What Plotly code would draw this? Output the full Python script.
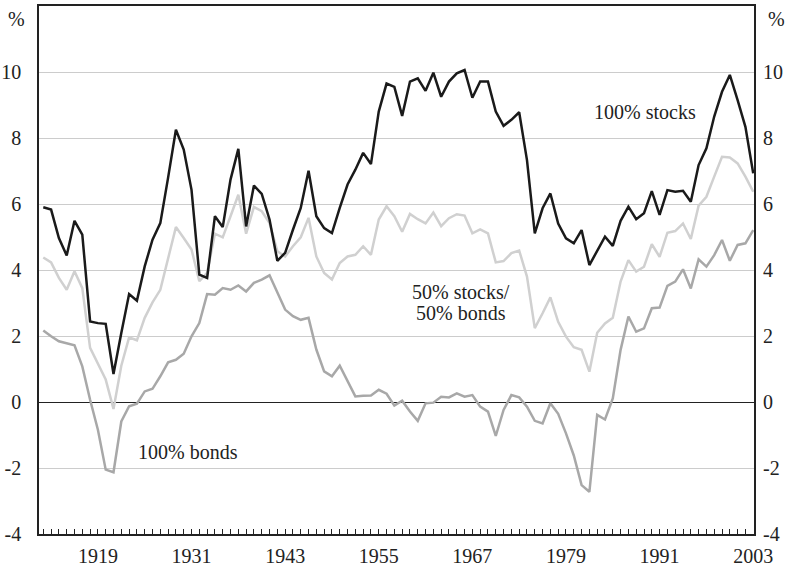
import plotly.graph_objects as go

anios = list(range(1912, 2004))

acciones = [
    5.90, 5.83, 4.97, 4.44, 5.49, 5.07, 2.44, 2.39, 2.37, 0.85,
    2.09, 3.27, 3.07, 4.11, 4.92, 5.42, 6.80, 8.25, 7.65, 6.43,
    3.86, 3.76, 5.63, 5.30, 6.74, 7.67, 5.32, 6.56, 6.31, 5.53,
    4.28, 4.52, 5.22, 5.88, 7.01, 5.63, 5.27, 5.12, 5.88, 6.59,
    7.04, 7.55, 7.21, 8.80, 9.65, 9.55, 8.67, 9.71, 9.81, 9.43,
    9.98, 9.25, 9.71, 9.96, 10.06, 9.22, 9.71, 9.71, 8.80, 8.37,
    8.55, 8.78, 7.33, 5.11, 5.87, 6.32, 5.41, 4.96, 4.81, 5.21,
    4.15, 4.56, 5.01, 4.73, 5.49, 5.92, 5.54, 5.72, 6.39, 5.67,
    6.42, 6.37, 6.40, 6.07, 7.18, 7.69, 8.65, 9.40, 9.91, 9.15,
    8.34, 6.93,
]

mixto = [
    4.38, 4.23, 3.76, 3.40, 3.96, 3.45, 1.64, 1.18, 0.68, -0.21,
    1.10, 1.96, 1.87, 2.55, 3.02, 3.40, 4.31, 5.30, 4.97, 4.62,
    3.66, 3.91, 5.10, 4.99, 5.63, 6.28, 5.10, 5.91, 5.78, 5.42,
    4.57, 4.41, 4.72, 4.99, 5.58, 4.41, 3.91, 3.71, 4.21, 4.41,
    4.46, 4.72, 4.46, 5.53, 5.93, 5.63, 5.16, 5.70, 5.54, 5.41,
    5.74, 5.33, 5.57, 5.69, 5.65, 5.11, 5.23, 5.11, 4.23, 4.27,
    4.51, 4.59, 3.80, 2.24, 2.69, 3.17, 2.43, 1.98, 1.66, 1.58,
    0.92, 2.10, 2.38, 2.55, 3.65, 4.30, 3.95, 4.10, 4.78, 4.40,
    5.13, 5.18, 5.41, 4.94, 5.95, 6.22, 6.83, 7.43, 7.41, 7.23,
    6.83, 6.37,
]

bonos = [
    2.17, 1.99, 1.84, 1.77, 1.72, 1.08, 0.07, -0.84, -2.05, -2.13,
    -0.59, -0.13, -0.05, 0.32, 0.40, 0.78, 1.20, 1.28, 1.46, 1.99,
    2.39, 3.27, 3.25, 3.45, 3.40, 3.53, 3.35, 3.61, 3.71, 3.84,
    3.30, 2.80, 2.60, 2.49, 2.55, 1.59, 0.93, 0.78, 1.10, 0.63,
    0.17, 0.19, 0.20, 0.37, 0.25, -0.11, 0.04, -0.29, -0.57, -0.04,
    -0.02, 0.16, 0.14, 0.26, 0.16, 0.21, -0.14, -0.29, -1.03, -0.24,
    0.21, 0.14, -0.14, -0.57, -0.65, -0.04, -0.36, -0.95, -1.62, -2.52,
    -2.72, -0.39, -0.53, 0.11, 1.58, 2.59, 2.13, 2.23, 2.84, 2.86,
    3.52, 3.65, 4.02, 3.44, 4.32, 4.10, 4.45, 4.91, 4.28, 4.76,
    4.81, 5.21,
]

anios_etiqueta = [1919, 1931, 1943, 1955, 1967, 1979, 1991, 2003]
valores_y = [-4, -2, 0, 2, 4, 6, 8, 10]
textos_y = ["-4", "-2", "0", "2", "4", "6", "8", "10"]

fuente = "Liberation Serif, Times New Roman, serif"
rango_y = [-4, 12]

fig = go.Figure()

fig.add_trace(go.Scatter(
    x=anios, y=bonos, mode="lines", name="100% bonds",
    line=dict(color="#a8a8a8", width=2.5)
))

fig.add_trace(go.Scatter(
    x=anios, y=mixto, mode="lines", name="50% stocks/50% bonds",
    line=dict(color="#d0d0d0", width=2.5)
))

fig.add_trace(go.Scatter(
    x=anios, y=acciones, mode="lines", name="100% stocks",
    line=dict(color="#1a1a1a", width=2.5),
    yaxis="y2"
))

fig.update_layout(
    width=791,
    height=566,
    showlegend=False,
    plot_bgcolor="white",
    paper_bgcolor="white",
    margin=dict(l=39, r=37, t=6, b=32, autoexpand=False),
    font=dict(family=fuente, size=20, color="#222222"),
    xaxis=dict(
        range=[1911.45, 2003.1],
        tickmode="array",
        tickvals=anios_etiqueta,
        ticks="inside",
        ticklen=5,
        tickcolor="#222222",
        tickwidth=1,
        minor=dict(tickmode="linear", tick0=1912, dtick=1, ticks="inside",
                   ticklen=5, tickcolor="#222222", tickwidth=1),
        showgrid=False,
        zeroline=False,
        showline=True,
        mirror=True,
        linecolor="#222222",
        linewidth=1.5,
        automargin=False,
        ticklabelstandoff=3,
    ),
    yaxis=dict(
        range=rango_y,
        tickmode="array",
        tickvals=valores_y,
        ticktext=textos_y,
        showgrid=True,
        gridcolor="#cccccc",
        gridwidth=1,
        zeroline=True,
        zerolinecolor="#222222",
        zerolinewidth=1.2,
        showline=True,
        mirror=True,
        linecolor="#222222",
        linewidth=1.5,
        ticks="",
        automargin=False,
        ticklabelstandoff=12,
    ),
    yaxis2=dict(
        range=rango_y,
        overlaying="y",
        side="right",
        tickmode="array",
        tickvals=valores_y,
        ticktext=textos_y,
        showgrid=False,
        zeroline=False,
        ticks="",
        automargin=False,
        ticklabelstandoff=8,
    ),
    annotations=[
        dict(x=-0.031, y=11.62, xref="paper", yref="y", text="%",
             showarrow=False, xanchor="center", yanchor="middle"),
        dict(x=1.032, y=11.62, xref="paper", yref="y", text="%",
             showarrow=False, xanchor="center", yanchor="middle"),
        dict(x=1989.1, y=8.8, text="100% stocks", showarrow=False,
             xanchor="center", yanchor="middle"),
        dict(x=1965.5, y=3.32, text="50% stocks/", showarrow=False,
             xanchor="center", yanchor="middle"),
        dict(x=1965.5, y=2.71, text="50% bonds", showarrow=False,
             xanchor="center", yanchor="middle"),
        dict(x=1930.6, y=-1.53, text="100% bonds", showarrow=False,
             xanchor="center", yanchor="middle"),
    ],
)

# quitar el margen por defecto del body
fig.write_html(
    "out.html",
    config={"displayModeBar": False},
    post_script="document.body.style.margin='0px';"
)
